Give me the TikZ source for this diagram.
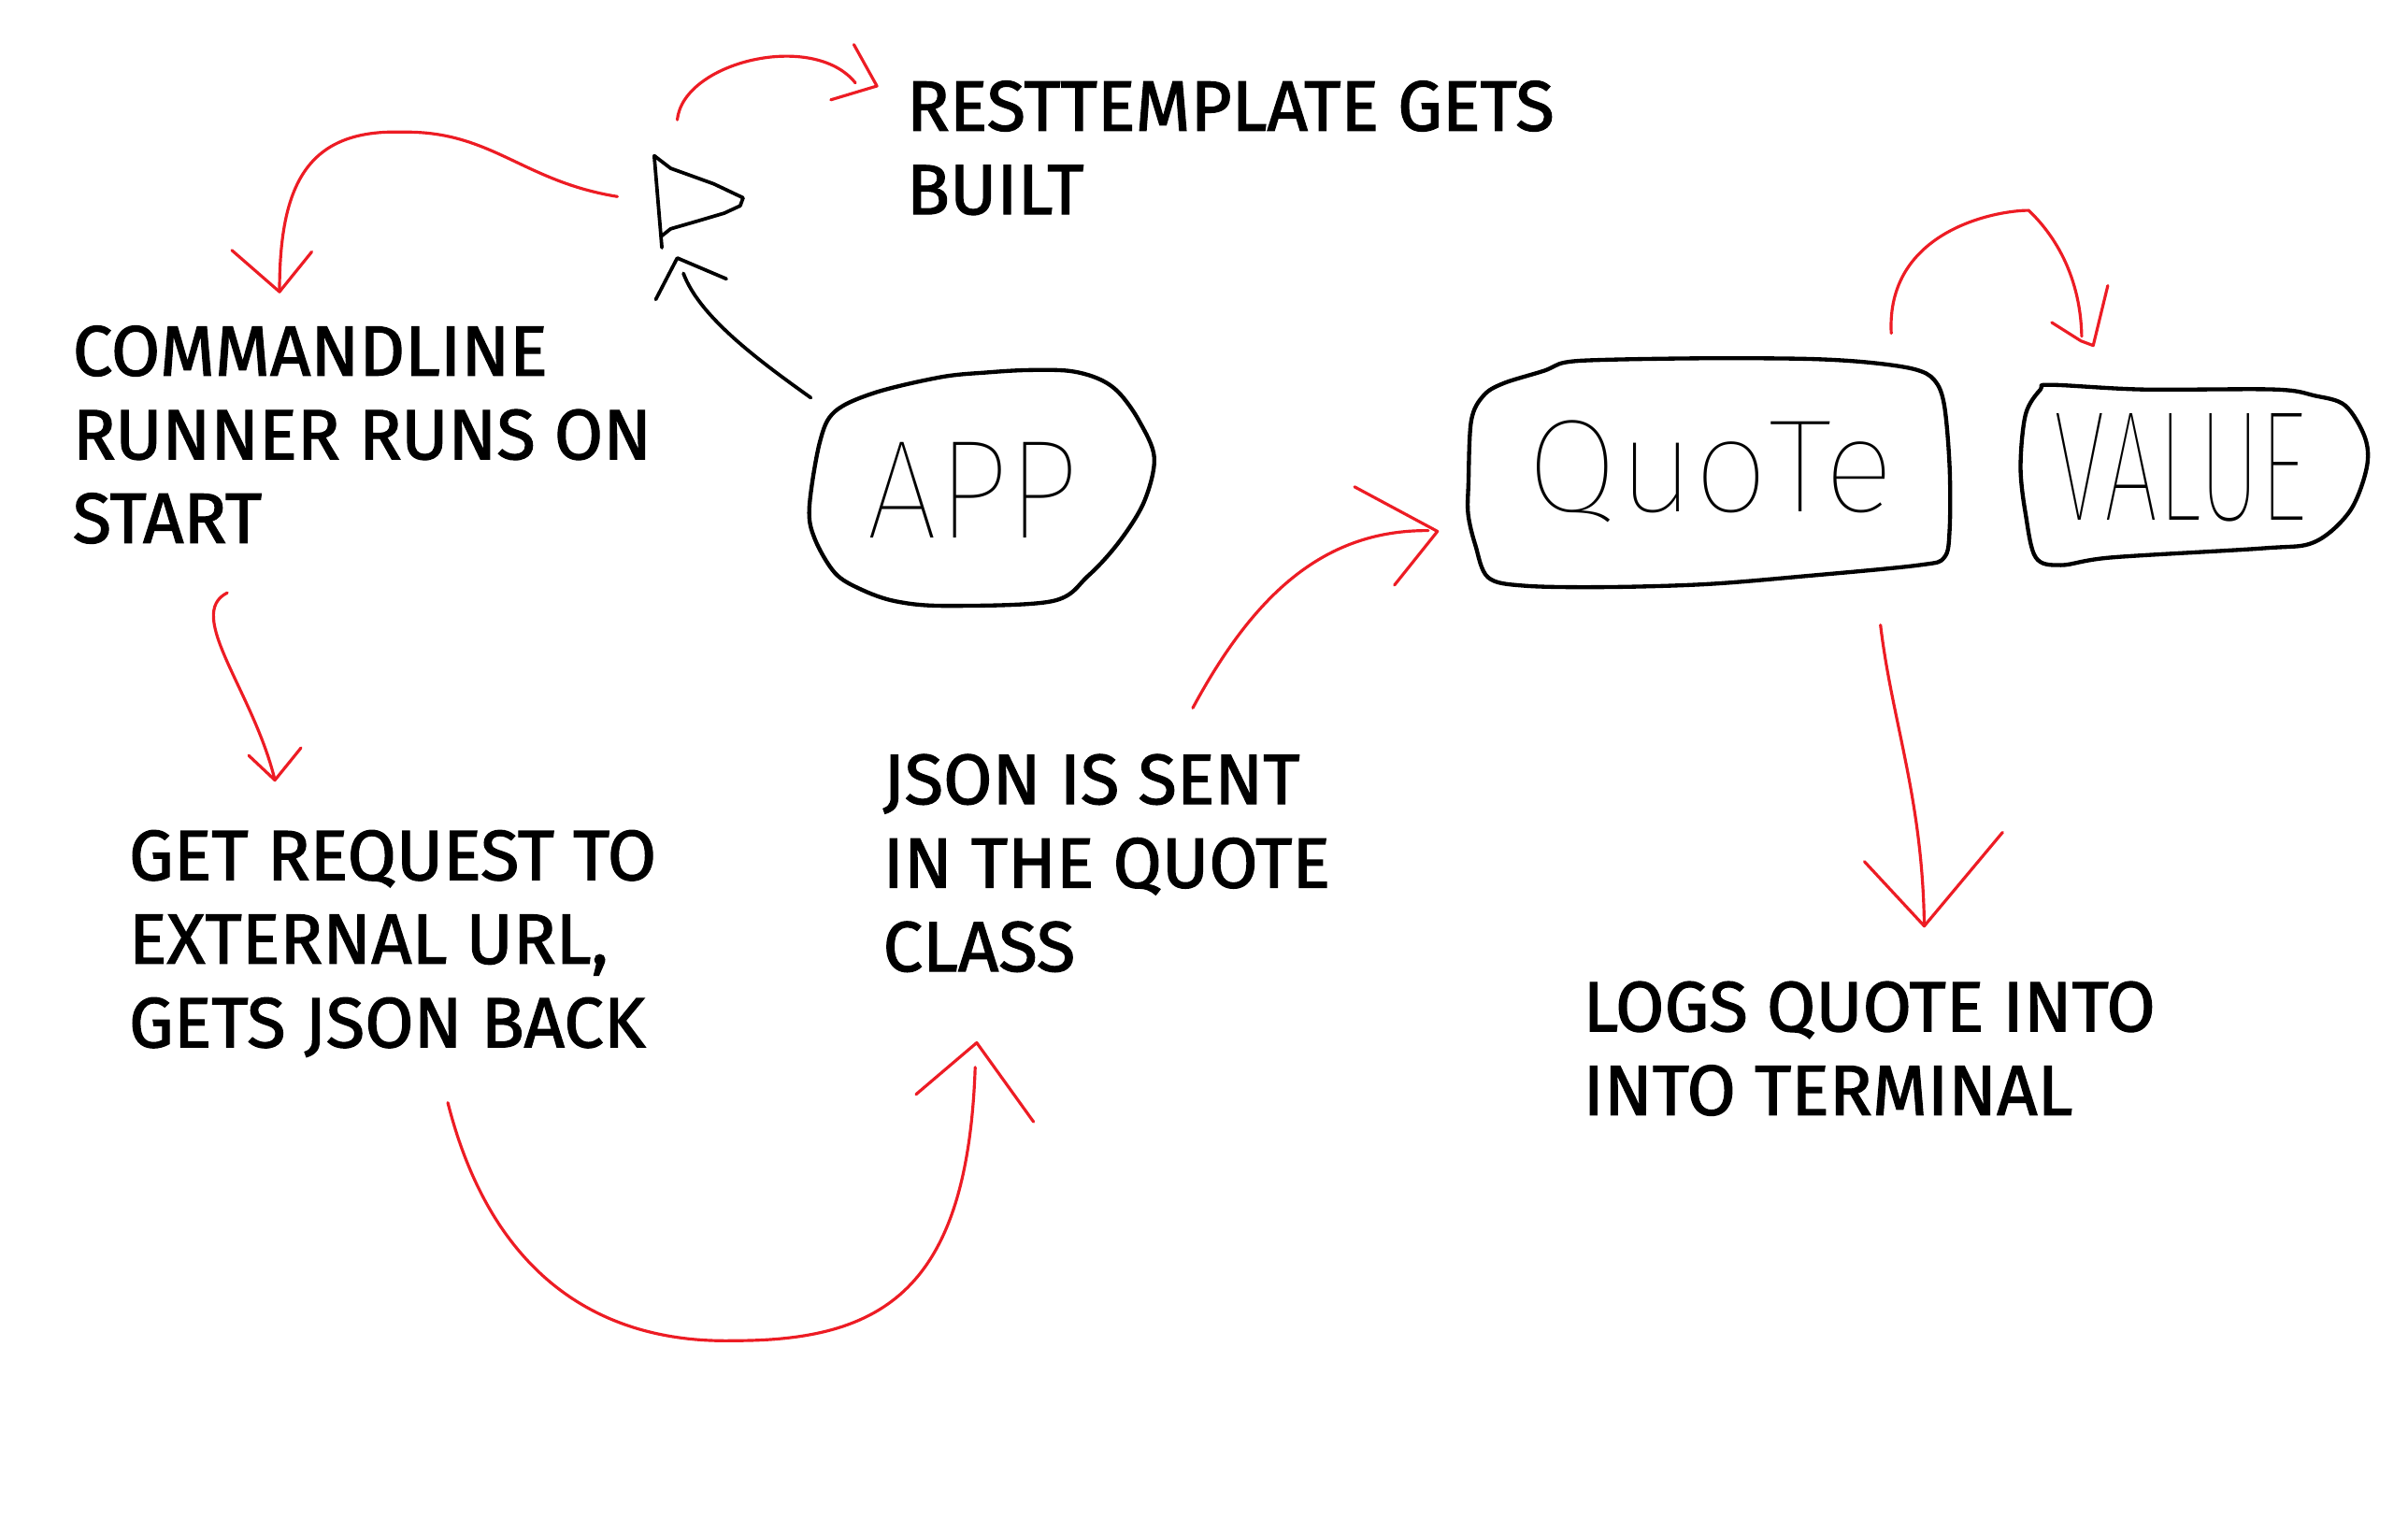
\documentclass[tikz,border=0pt]{standalone}
\usepackage{fontspec}
\setmainfont{Fira Sans}
\newfontfamily\lblfont{Fira Sans}[FakeBold=1.6]
\IfFontExistsTF{Fira Sans Thin}{\newfontfamily\handfont{Fira Sans Thin}}{%
 \IfFontExistsTF{Lato Hairline}{\newfontfamily\handfont{Lato Hairline}}{%
  \IfFontExistsTF{Fira Sans Light}{\newfontfamily\handfont{Fira Sans Light}}{%
   \IfFontExistsTF{Lato Light}{\newfontfamily\handfont{Lato Light}}{\newfontfamily\handfont{Fira Sans}}}}}
\usepackage{graphicx}
\definecolor{pred}{RGB}{237,28,36}
\begin{document}
\begin{tikzpicture}[x=0.02cm,y=-0.02cm,
  redline/.style={draw=pred,line width=1.1pt,line cap=round,line join=round},
  blackline/.style={draw=black,line width=1.3pt,line cap=round,line join=round},
  blob/.style={draw=black,line width=1.5pt,line join=round},
  lbl/.style={anchor=base west,inner sep=0pt,font=\lblfont\fontsize{26.3}{31}\selectfont},
  hand/.style={anchor=base,inner sep=0pt}]
\useasboundingbox (0,0) rectangle (1568,998);
\fill[white] (0,0) rectangle (1568,998);

% ---------- text labels ----------
\node[lbl] (rest) at (590,85) {\begin{tabular}[t]{@{}l@{}}RESTTEMPLATE GETS\\BUILT\end{tabular}};
\node[lbl] (cmd) at (47,244.5) {\begin{tabular}[t]{@{}l@{}}COMMANDLINE\\RUNNER RUNS ON\\START\end{tabular}};
\node[lbl] (get) at (83.6,573) {\begin{tabular}[t]{@{}l@{}}GET REQUEST TO\\EXTERNAL URL,\\GETS JSON BACK\end{tabular}};
\node[lbl] (json) at (574.6,523.5) {\begin{tabular}[t]{@{}l@{}}JSON IS SENT\\IN THE QUOTE\\CLASS\end{tabular}};
\node[lbl] (logs) at (1030.5,671.5) {\begin{tabular}[t]{@{}l@{}}LOGS QUOTE INTO\\INTO TERMINAL\end{tabular}};

% ---------- hand-written boxes ----------
\node[hand,font=\handfont\fontsize{52}{52}\selectfont] (app) at (633.5,350) {\scalebox{0.9}[1]{APP}};
\node[hand,font=\handfont\fontsize{49}{49}\selectfont] (quote) at (1114,333) {QuoTe};
\node[hand,font=\handfont\fontsize{58}{58}\selectfont] (value) at (1420,339) {\scalebox{0.61}[1]{VALUE}};

\draw[blob] plot[smooth cycle,tension=0.55] coordinates {(669,241) (696,241.5) (715,246.5) (728.5,255.6) (741.7,274) (751.6,298) (745,326.7) (728.6,353) (708.5,375) (685,391.5) (616,394.5) (583,391.5) (560,383.5) (543.6,373) (530.6,351) (527,330.7) (533.8,288) (543.6,268) (570,255.6) (613,245.5) (643,242.5)};
\draw[blob] plot[smooth cycle,tension=0.55] coordinates {(956.2,314.5) (958,274) (966,257.6) (979,249.6) (1005.5,241.4) (1019,236) (1045,234.3) (1111,233.3) (1177,233.7) (1216.6,236) (1246.5,240.4) (1259.6,247.5) (1266,263.7) (1269.5,304) (1269.5,345) (1266,363) (1249.6,368) (1177,375) (1111,380.4) (1045,382.3) (992.4,381.4) (969,376) (960.7,355) (956,334.8)};
\draw[blob] plot[smooth cycle,tension=0.55] coordinates {(1335.4,250.6) (1395,253.6) (1481,253.6) (1507,257.6) (1527,264) (1540,285) (1541,305) (1530,333) (1507,353) (1474,357) (1375,363) (1342,368) (1325.6,363) (1319,334.8) (1315.7,304) (1319,269.8) (1328.7,253.6)};

% ---------- flag shape ----------
\coordinate (flag) at (455,128);
\draw[blackline] (431,161.3) -- (430.4,154) -- (426,101.4) -- (436.7,109.6) -- (464.7,119.7) -- (483.9,128.8) -- (482,134) -- (471.6,138.8) -- (454,144) -- (436.7,149) -- (430.4,154);

% ---------- connectors ----------
% to RESTTEMPLATE
\coordinate (a1s) at (441,78); \coordinate (a1e) at (557,54); \coordinate (a1t) at (571,56);
\coordinate (a1l) at (556,29); \coordinate (a1r) at (541,65);
\draw[redline] (a1s) .. controls (445,40) and (530,20) .. (a1e);
\draw[redline] (a1l) -- (a1t) -- (a1r);

% flag to COMMANDLINE
\coordinate (a2s) at (402,128); \coordinate (a2m) at (262,86); \coordinate (a2t) at (182,190);
\coordinate (a2l) at (151,163); \coordinate (a2r) at (203,164);
\draw[redline] (a2s) .. controls (340,118) and (320,85) .. (a2m) .. controls (200,84) and (182,120) .. (a2t);
\draw[redline] (a2l) -- (a2t) -- (a2r);

% APP to flag
\coordinate (a3s) at (528,259); \coordinate (a3e) at (445,178); \coordinate (a3t) at (441,168);
\coordinate (a3l) at (427,195); \coordinate (a3r) at (473,181.6);
\draw[blackline] (a3s) .. controls (490,232) and (455,205) .. (a3e);
\draw[blackline] (a3l) -- (a3t) -- (a3r);

% COMMANDLINE to GET REQUEST
\coordinate (a4s) at (148,386); \coordinate (a4t) at (179,508);
\coordinate (a4l) at (162,492); \coordinate (a4r) at (196,487);
\draw[redline] (a4s) .. controls (120,400) and (165,450) .. (a4t);
\draw[redline] (a4l) -- (a4t) -- (a4r);

% GET REQUEST to JSON
\coordinate (a5s) at (291.6,718); \coordinate (a5m) at (478,873); \coordinate (a5e) at (635,695); \coordinate (a5t) at (636,679);
\coordinate (a5l) at (596.5,712.6); \coordinate (a5r) at (673,730.5);
\draw[redline] (a5s) .. controls (320,830) and (390,875) .. (a5m) .. controls (575,873) and (630,840) .. (a5e);
\draw[redline] (a5l) -- (a5t) -- (a5r);

% JSON to QUOTE
\coordinate (a6s) at (776.7,461); \coordinate (a6e) at (930,345.5); \coordinate (a6t) at (936,346);
\coordinate (a6l) at (882,317); \coordinate (a6r) at (908,381);
\draw[redline] (a6s) .. controls (815,390) and (860,345) .. (a6e);
\draw[redline] (a6l) -- (a6t) -- (a6r);

% QUOTE to VALUE
\coordinate (a7s) at (1231.5,217); \coordinate (a7m) at (1321,137); \coordinate (a7e) at (1355.5,219); \coordinate (a7t) at (1363,225);
\coordinate (a7l) at (1336,210); \coordinate (a7r) at (1372.5,186);
\draw[redline] (a7s) .. controls (1228,150) and (1300,137) .. (a7m) .. controls (1345,160) and (1355,190) .. (a7e);
\draw[redline] (a7l) -- (1355,222) -- (a7t) -- (a7r);

% QUOTE to LOGS
\coordinate (a8s) at (1224.5,407); \coordinate (a8t) at (1253,603);
\coordinate (a8l) at (1214,561); \coordinate (a8r) at (1304,542);
\draw[redline] (a8s) .. controls (1232,470) and (1252,520) .. (a8t);
\draw[redline] (a8l) -- (a8t) -- (a8r);
\end{tikzpicture}
\end{document}
